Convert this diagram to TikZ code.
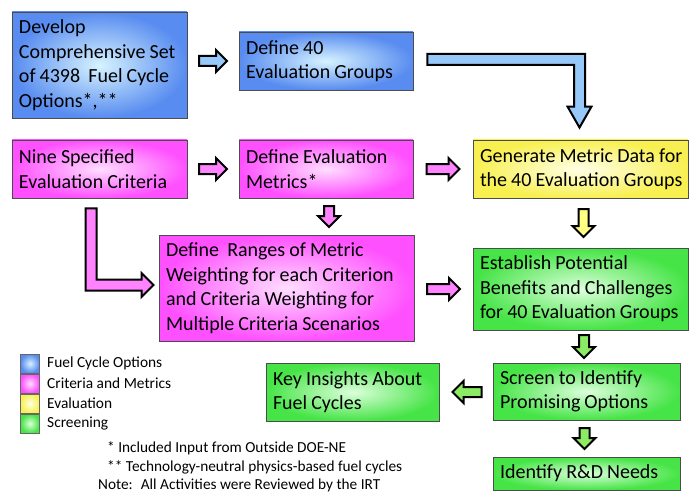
\documentclass[tikz,border=0pt]{standalone}
\usepackage{fontspec}
\setmainfont{Carlito}
\newfontfamily\boxfont{Carlito}[WordSpace=0.9]
\usetikzlibrary{calc,shadows}

\definecolor{blueout}{RGB}{88,140,240}
\definecolor{bluein}{RGB}{215,243,255}
\definecolor{pinkout}{RGB}{255,80,255}
\definecolor{pinkin}{RGB}{255,222,255}
\definecolor{yelout}{RGB}{248,240,80}
\definecolor{yelin}{RGB}{255,255,232}
\definecolor{grnout}{RGB}{70,228,70}
\definecolor{grnin}{RGB}{220,255,220}
\definecolor{bluearr}{RGB}{150,200,250}
\definecolor{pinkarr}{RGB}{255,130,255}
\definecolor{yelarr}{RGB}{255,255,130}
\definecolor{grnarr}{RGB}{140,235,100}

\tikzset{
  fcbox/.style 2 args={draw=black!70, line width=0.9pt,
    inner color=#1, outer color=#2,
    drop shadow={shadow xshift=1.2pt, shadow yshift=-1.2pt, opacity=0.35},
    inner xsep=7pt, inner ysep=0pt,
    align=flush left, font=\boxfont\fontsize{20}{24.5}\selectfont},
  bluebox/.style={fcbox={bluein}{blueout}},
  pinkbox/.style={fcbox={pinkin}{pinkout}},
  yelbox/.style={fcbox={yelin}{yelout}},
  grnbox/.style={fcbox={grnin}{grnout}},
  % text width is the box width less both paddings
  dims/.style 2 args={text width=#1, minimum height=#2},
  arrowline/.style={draw=black, line width=2pt, line join=miter},
  legsq/.style={draw=black!60, line width=0.6pt, minimum width=19pt, minimum height=19pt, inner sep=0pt},
  legtext/.style={anchor=west, inner sep=0pt, font=\fontsize{15.4}{18}\selectfont},
  notetext/.style={anchor=west, inner sep=0pt, font=\fontsize{15.3}{18}\selectfont},
  pics/barrow/.style={code={
    \draw[arrowline, pic actions]
      (-#1/2,-5) -- (#1/2-11,-5) -- (#1/2-11,-11) -- (#1/2,0)
      -- (#1/2-11,11) -- (#1/2-11,5) -- (-#1/2,5) -- cycle;}}
}

\begin{document}
\begin{tikzpicture}[x=1pt,y=-1pt]
\useasboundingbox (0,0) rectangle (689,495);

% process boxes
\node[bluebox, dims={161pt}{106pt}] (opts) at (99.5,65)
  {Develop\\Comprehensive Set\\of 4398~ Fuel Cycle\\Options*,**};
\node[bluebox, dims={160pt}{58pt}] (groups) at (326,61)
  {Define 40\\Evaluation Groups};
\node[pinkbox, dims={161pt}{58pt}] (nine) at (99.5,169)
  {Nine Specified\\Evaluation Criteria};
\node[pinkbox, dims={160pt}{58pt}] (metrics) at (326,169)
  {Define Evaluation\\Metrics*};
\node[yelbox, dims={201pt}{58pt}] (gen) at (580.5,169)
  {\mbox{Generate Metric Data for}\\\mbox{the 40 Evaluation Groups}};
\node[pinkbox, dims={241pt}{106pt}] (ranges) at (286.5,288)
  {Define~ Ranges of Metric\\Weighting for each Criterion\\and Criteria Weighting for\\Multiple Criteria Scenarios};
\node[grnbox, dims={201pt}{82pt}] (estab) at (580.5,289)
  {Establish Potential\\Benefits and Challenges\\\mbox{for 40 Evaluation Groups}};
\node[grnbox, dims={173pt}{57pt}] (screen) at (586.5,391.5)
  {Screen to Identify\\Promising Options};
\node[grnbox, dims={173pt}{33pt}] (rd) at (586.5,473.5)
  {Identify R\&D Needs};
\node[grnbox, dims={159pt}{58pt}] (key) at (352.5,392)
  {Key Insights About\\Fuel Cycles};

% straight block arrows
\pic[fill=bluearr] at ($(opts.east |- groups.west)!0.5!(groups.west)$) {barrow=28};
\pic[fill=pinkarr] at ($(nine.east)!0.5!(metrics.west)$) {barrow=28};
\pic[fill=pinkarr] at ($(metrics.east)!0.5!(gen.west)$) {barrow=33};
\pic[fill=pinkarr] at ($(ranges.east |- estab.west)!0.5!(estab.west)$) {barrow=33};
\pic[fill=pinkarr, rotate=-90] at ($(metrics.south)!0.5!(metrics.south |- ranges.north)+(3,0)$) {barrow=21};
\pic[fill=yelarr, rotate=-90] at ($(gen.south)!0.5!(gen.south |- estab.north)+(3,0)$) {barrow=28};
\pic[fill=grnarr, rotate=-90] at ($(estab.south)!0.5!(estab.south |- screen.north)+(3.5,0)$) {barrow=23};
\pic[fill=grnarr, rotate=-90] at ($(screen.south)!0.5!(rd.north)+(-2,0)$) {barrow=21};
\pic[fill=grnarr, rotate=180] at ($(key.east)!0.52!(key.east -| screen.west)$) {barrow=29};

% bent arrow: evaluation groups to metric data
\coordinate (bstart) at ($(groups.east)+(14,-1.5)$);
\coordinate (btip) at ($(gen.north)+(-1,-12)$);
\draw[arrowline, fill=bluearr]
  ($(bstart)+(0,-5.5)$) -- ($(bstart -| btip)+(5.5,-5.5)$)
  -- ($(btip)+(5.5,-21)$) -- ($(btip)+(12,-21)$) -- (btip)
  -- ($(btip)+(-12,-21)$) -- ($(btip)+(-5.5,-21)$)
  -- ($(bstart -| btip)+(-5.5,5.5)$) -- ($(bstart)+(0,5.5)$) -- cycle;

% bent arrow: criteria to weighting ranges
\coordinate (pstart) at ($(nine.south)+(-8.5,10)$);
\coordinate (ptip) at ($(ranges.west)+(-5,-3)$);
\draw[arrowline, fill=pinkarr]
  ($(pstart)+(-5.5,0)$) -- ($(pstart |- ptip)+(-5.5,5.5)$)
  -- ($(ptip)+(-12,5.5)$) -- ($(ptip)+(-12,12)$) -- (ptip)
  -- ($(ptip)+(-12,-12)$) -- ($(ptip)+(-12,-5.5)$)
  -- ($(pstart |- ptip)+(5.5,-5.5)$) -- ($(pstart)+(5.5,0)$) -- cycle;

% legend
\node[legsq, inner color=bluein, outer color=blueout] (lg1) at (30,363.5) {};
\node[legsq, inner color=pinkin, outer color=pinkout] (lg2) at (30,383.5) {};
\node[legsq, inner color=yelin, outer color=yelout] (lg3) at (30,403.5) {};
\node[legsq, inner color=grnin, outer color=grnout] (lg4) at (30,423.5) {};
\node[legtext] (lt1) at (47,363.5) {Fuel Cycle Options};
\node[legtext] (lt2) at (47,383.5) {Criteria and Metrics};
\node[legtext] (lt3) at (47,403.5) {Evaluation};
\node[legtext] (lt4) at (47,423.5) {Screening};

% footnotes
\node[notetext] (n1) at (107,448) {* Included Input from Outside DOE-NE};
\node[notetext] (n2) at (107,467) {** Technology-neutral physics-based fuel cycles};
\node[notetext] (n3) at (98,485.5) {Note:~ All Activities were Reviewed by the IRT};
\end{tikzpicture}
\end{document}
